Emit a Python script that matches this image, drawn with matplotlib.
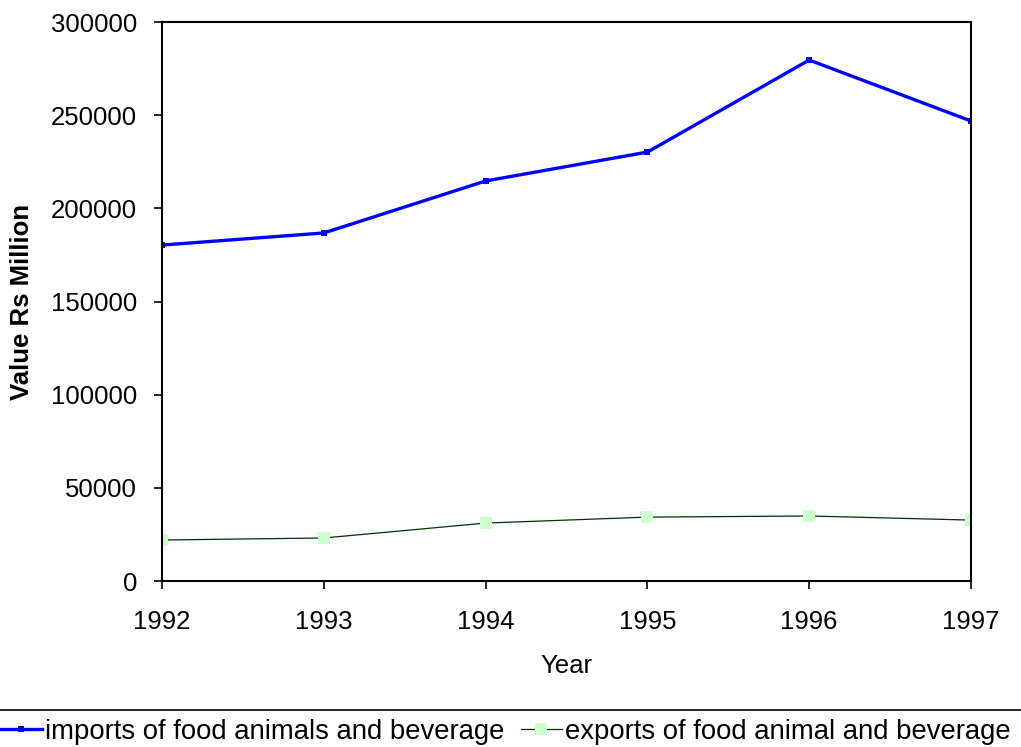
"""
Imports vs exports of food, animals and beverage, 1992-1997.
"""

import matplotlib.pyplot as plt
from matplotlib.lines import Line2D

plt.rcParams["font.family"] = ["Liberation Sans", "DejaVu Sans"]

years = [1992, 1993, 1994, 1995, 1996, 1997]
imports = [180300, 186800, 214700, 230200, 279600, 246900]
exports = [22000, 23100, 31100, 34300, 34900, 32700]
yticks = [0, 50000, 100000, 150000, 200000, 250000, 300000]

fig = plt.figure(figsize=(10.21, 7.47), dpi=100)
ax = fig.add_axes([0.1587, 0.2222, 0.7923, 0.7483])

ax.plot(years, imports, color="#0000FF", linewidth=2.4, marker="s",
        markersize=5, markeredgewidth=0, label="imports of food animals and beverage")
ax.plot(years, exports, color="#003300", linewidth=0.9, marker="s",
        markersize=8, markerfacecolor="#CCFFCC", markeredgewidth=0,
        label="exports of food animal and beverage")

ax.set_xlim(1992, 1997)
ax.set_ylim(0, 300000)
ax.set_xticks(years)
ax.set_yticks(yticks)
ax.tick_params(labelsize=18.5, direction="out", length=6, width=1.2)
ax.tick_params(axis="x", pad=15)
ax.tick_params(axis="y", pad=12)
for side in ax.spines.values():
    side.set_linewidth(1.5)

ax.set_xlabel("Year", fontsize=18.5, labelpad=14)
ax.set_ylabel("Value Rs Million", fontsize=18.5, fontweight="bold")
ax.yaxis.set_label_coords(-0.158, 0.5)

# separator line above the legend
fig.add_artist(Line2D([0, 1], [0.0495, 0.0495], color="black", linewidth=1.2,
                      transform=fig.transFigure))

fig.legend(loc="center", bbox_to_anchor=(0.495, 0.020), ncol=2,
           frameon=False, fontsize=19.8, handlelength=1.5, handletextpad=0.1,
           columnspacing=0.6, borderpad=0)

fig.savefig("out.png", dpi=100)
